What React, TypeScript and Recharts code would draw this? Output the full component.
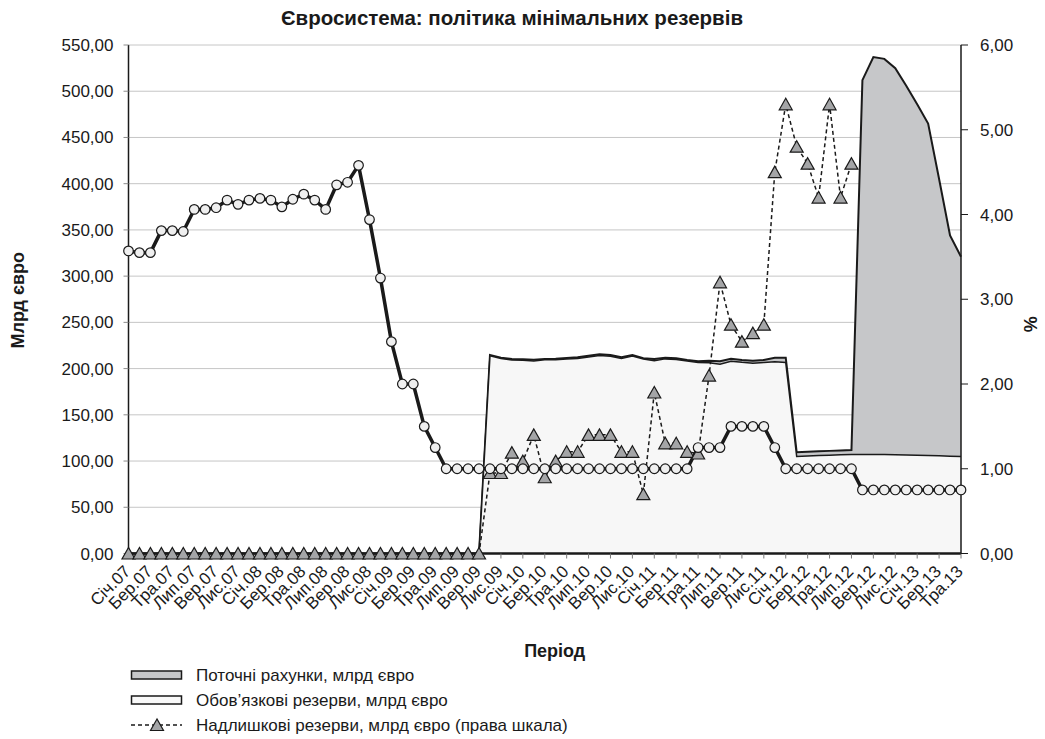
import React from 'react';
import { ComposedChart, Area, Line, XAxis, YAxis, CartesianGrid, Legend, Label } from 'recharts';

const FONT = '"Liberation Sans", Arial, sans-serif';

const monthNames = ['Січ', 'Лют', 'Бер', 'Кві', 'Тра', 'Чер', 'Лип', 'Сер', 'Вер', 'Жов', 'Лис', 'Гру'];
const yearSuffixes = ['07', '08', '09', '10', '11', '12', '13'];
const allPeriods: string[] = [];
yearSuffixes.forEach((y) => monthNames.forEach((m) => allPeriods.push(`${m}.${y}`)));
const categories = allPeriods.slice(0, 77); // Січ.07 … Тра.13

// Поточні рахунки, млрд євро (left scale)
const currentAccounts: number[] = [
  0, 0, 0, 0, 0, 0, 0, 0, 0, 0, 0, 0,
  0, 0, 0, 0, 0, 0, 0, 0, 0, 0, 0, 0,
  0, 0, 0, 0, 0, 0, 0, 0, 0,
  214.7, 211.8, 210.4,
  210.0, 209.6, 210.4, 210.7, 211.5, 212.2, 214.0, 215.5, 214.7, 212.2, 214.7, 211.1,
  210.4, 211.8, 211.1, 209.3, 207.9, 208.5, 208.0, 210.7, 209.3, 208.5, 209.3, 211.8,
  211.8, 109.5, 110.0, 110.5, 111.0, 111.5, 112.0, 512, 537, 535, 525, 506,
  486, 465, 405, 344, 321,
];

// Обов'язкові резерви, млрд євро (left scale)
const requiredReserves: number[] = [
  0, 0, 0, 0, 0, 0, 0, 0, 0, 0, 0, 0,
  0, 0, 0, 0, 0, 0, 0, 0, 0, 0, 0, 0,
  0, 0, 0, 0, 0, 0, 0, 0, 0,
  213.8, 210.9, 209.2,
  208.9, 208.2, 209.5, 209.6, 210.3, 211.0, 212.6, 214.1, 213.3, 211.0, 213.5, 210.4,
  208.5, 210.5, 209.8, 208.1, 206.7, 206.4, 204.8, 208.0, 206.8, 205.9, 206.6, 207.3,
  206.5, 105.0, 105.5, 106.0, 106.3, 106.7, 107.0, 107.0, 107.2, 107.1, 106.8, 106.5,
  106.3, 106.0, 105.6, 105.3, 105.0,
];

// Надлишкові резерви, млрд євро (right scale)
const excessReserves: (number | null)[] = [
  0, 0, 0, 0, 0, 0, 0, 0, 0, 0, 0, 0,
  0, 0, 0, 0, 0, 0, 0, 0, 0, 0, 0, 0,
  0, 0, 0, 0, 0, 0, 0, 0, 0,
  0.95, 0.95, 1.19,
  1.09, 1.40, 0.90, 1.09, 1.20, 1.20, 1.40, 1.40, 1.40, 1.20, 1.20, 0.70,
  1.90, 1.30, 1.30, 1.20, 1.18, 2.10, 3.20, 2.70, 2.50, 2.60, 2.70, 4.50,
  5.30, 4.80, 4.60, 4.20, 5.30, 4.20, 4.60, null, null, null, null, null,
  null, null, null, null, null,
];

// Ставка, % (right scale)
const interestRate: number[] = [
  3.57, 3.55, 3.55, 3.81, 3.81, 3.80, 4.06, 4.06, 4.08, 4.17, 4.12, 4.17,
  4.19, 4.17, 4.09, 4.18, 4.24, 4.17, 4.06, 4.35, 4.38, 4.58, 3.94, 3.25,
  2.50, 2.00, 2.00, 1.50, 1.25, 1.00, 1.00, 1.00, 1.00,
  1.00, 1.00, 1.00,
  1.00, 1.00, 1.00, 1.00, 1.00, 1.00, 1.00, 1.00, 1.00, 1.00, 1.00, 1.00,
  1.00, 1.00, 1.00, 1.00, 1.25, 1.25, 1.25, 1.50, 1.50, 1.50, 1.50, 1.25,
  1.00, 1.00, 1.00, 1.00, 1.00, 1.00, 1.00, 0.75, 0.75, 0.75, 0.75, 0.75,
  0.75, 0.75, 0.75, 0.75, 0.75,
];

const leftTicks = [0, 50, 100, 150, 200, 250, 300, 350, 400, 450, 500, 550];
const rightTicks = [0, 1, 2, 3, 4, 5, 6];

const data = categories.map((period, i) => ({
  period,
  ca: currentAccounts[i],
  rr: requiredReserves[i],
  excess: excessReserves[i],
  rate: interestRate[i],
}));

const fmt = (v: number) => v.toFixed(2).replace('.', ',');

const XTick = (props: any) => {
  const { x, y, payload } = props;
  return (
    <g transform={`translate(${x + 3},${y + 12})`}>
      <text
        x={0}
        y={0}
        textAnchor="end"
        transform="rotate(-45)"
        fontSize={17}
        fontFamily={FONT}
        fill="#1a1a1a"
      >
        {payload.value}
      </text>
    </g>
  );
};

const TriangleDot = (props: any) => {
  const { cx, cy, value, index } = props;
  if (value == null || cx == null || cy == null || Number.isNaN(cy)) return <g key={`t${index}`} />;
  return (
    <polygon
      key={`t${index}`}
      points={`${cx},${cy - 6} ${cx - 6.5},${cy + 5.5} ${cx + 6.5},${cy + 5.5}`}
      fill="#a4a5a7"
      stroke="#1a1a1a"
      strokeWidth={1.2}
    />
  );
};

const CircleDot = (props: any) => {
  const { cx, cy, index } = props;
  if (cx == null || cy == null) return <g key={`c${index}`} />;
  return <circle key={`c${index}`} cx={cx} cy={cy} r={4.8} fill="#efefef" stroke="#1a1a1a" strokeWidth={1.2} />;
};

const LegendContent = () => (
  <svg width={700} height={84} style={{ display: 'block', overflow: 'visible' }}>
    <rect x={131.5} y={12} width={50} height={8} fill="#c6c7c9" stroke="#1a1a1a" strokeWidth={1.5} />
    <text x={196} y={16} dominantBaseline="central" fontSize={17} fontFamily={FONT} fill="#1a1a1a">
      Поточні рахунки, млрд євро
    </text>
    <rect x={131.5} y={37} width={50} height={8} fill="#f9f9f9" stroke="#1a1a1a" strokeWidth={1.5} />
    <text x={196} y={41} dominantBaseline="central" fontSize={17} fontFamily={FONT} fill="#1a1a1a">
      Обов’язкові резерви, млрд євро
    </text>
    <line x1={131} y1={66} x2={182} y2={66} stroke="#1a1a1a" strokeWidth={1.3} strokeDasharray="4 3" />
    <polygon points="157,60 150.5,71.5 163.5,71.5" fill="#a4a5a7" stroke="#1a1a1a" strokeWidth={1.2} />
    <text x={196} y={66} dominantBaseline="central" fontSize={17} fontFamily={FONT} fill="#1a1a1a">
      Надлишкові резерви, млрд євро (права шкала)
    </text>
  </svg>
);

const LeftTitle = (props: any) => {
  const vb = props.viewBox || { x: 0, y: 45, width: 128, height: 508 };
  const cx = 18;
  const cy = vb.y + vb.height / 2 + 1;
  return (
    <text
      x={cx}
      y={cy}
      transform={`rotate(-90 ${cx} ${cy})`}
      textAnchor="middle"
      dominantBaseline="central"
      fontSize={18}
      fontWeight="bold"
      fontFamily={FONT}
      fill="#1a1a1a"
    >
      Млрд євро
    </text>
  );
};

const RightTitle = (props: any) => {
  const vb = props.viewBox || { x: 961, y: 45, width: 84, height: 508 };
  const cx = 1031;
  const cy = vb.y + vb.height / 2 + 25;
  return (
    <text
      x={cx}
      y={cy}
      transform={`rotate(-90 ${cx} ${cy})`}
      textAnchor="middle"
      dominantBaseline="central"
      fontSize={18}
      fontWeight="bold"
      fontFamily={FONT}
      fill="#1a1a1a"
    >
      %
    </text>
  );
};

const BottomTitle = (props: any) => {
  const vb = props.viewBox || { x: 128, y: 553, width: 833, height: 186 };
  const cx = vb.x + vb.width / 2 + 10;
  return (
    <text
      x={cx}
      y={651}
      textAnchor="middle"
      dominantBaseline="central"
      fontSize={18}
      fontWeight="bold"
      fontFamily={FONT}
      fill="#1a1a1a"
    >
      Період
    </text>
  );
};

export default function App() {
  return (
    <div style={{ position: 'absolute', left: 0, top: 0, width: 1045, height: 739, background: '#fff' }}>
      <div
        style={{
          position: 'absolute',
          left: 0,
          top: 6,
          width: 1024,
          textAlign: 'center',
          fontFamily: FONT,
          fontWeight: 'bold',
          fontSize: 20.5,
          color: '#1a1a1a',
          lineHeight: '24px',
        }}
      >
        Євросистема: політика мінімальних резервів
      </div>
      <ComposedChart width={1045} height={739} data={data} margin={{ top: 45, right: 0, bottom: 0, left: 0 }}>
        <CartesianGrid vertical={false} stroke="#8c8c8c" strokeDasharray="1 1" />
        <XAxis
          dataKey="period"
          scale="point"
          padding={{ left: 0, right: 0 }}
          interval={1}
          height={185.5}
          tick={<XTick />}
          tickSize={5}
          tickLine={{ stroke: '#777' }}
          axisLine={{ stroke: '#1a1a1a', strokeWidth: 2.5 }}
        >
          <Label content={<BottomTitle />} />
        </XAxis>
        <YAxis
          width={128.5}
          domain={[0, 550]}
          ticks={leftTicks}
          interval={0}
          tickFormatter={fmt}
          tickSize={5}
          tickMargin={10}
          tick={{ fontSize: 17, fontFamily: FONT, fill: '#1a1a1a' }}
          tickLine={{ stroke: '#8c8c8c' }}
          axisLine={{ stroke: '#1a1a1a', strokeWidth: 1.5 }}
        >
          <Label content={<LeftTitle />} />
        </YAxis>
        <YAxis
          yAxisId="r"
          orientation="right"
          width={84}
          domain={[0, 6]}
          ticks={rightTicks}
          interval={0}
          tickFormatter={fmt}
          tickSize={7}
          tickMargin={12}
          tick={{ fontSize: 17, fontFamily: FONT, fill: '#1a1a1a' }}
          tickLine={{ stroke: '#1a1a1a' }}
          axisLine={{ stroke: '#1a1a1a', strokeWidth: 1.5 }}
        >
          <Label content={<RightTitle />} />
        </YAxis>
        <Area
          type="linear"
          dataKey="ca"
          fill="#c6c7c9"
          fillOpacity={1}
          stroke="#1a1a1a"
          strokeWidth={2}
          isAnimationActive={false}
          name="Поточні рахунки, млрд євро"
        />
        <Area
          type="linear"
          dataKey="rr"
          fill="#f7f7f7"
          fillOpacity={1}
          stroke="#1a1a1a"
          strokeWidth={1.5}
          isAnimationActive={false}
          name="Обов’язкові резерви, млрд євро"
        />
        <Line
          type="linear"
          dataKey="excess"
          yAxisId="r"
          stroke="#1a1a1a"
          strokeWidth={1.5}
          strokeDasharray="4 3"
          dot={TriangleDot}
          activeDot={false}
          isAnimationActive={false}
          name="Надлишкові резерви, млрд євро (права шкала)"
        />
        <Line
          type="linear"
          dataKey="rate"
          yAxisId="r"
          stroke="#1a1a1a"
          strokeWidth={3.5}
          dot={CircleDot}
          activeDot={false}
          isAnimationActive={false}
          legendType="none"
          name="Ставка, %"
        />
        <Legend
          layout="horizontal"
          verticalAlign="middle"
          align="center"
          content={<LegendContent />}
          wrapperStyle={{ left: 0, top: 659, width: 700, height: 84 }}
        />
      </ComposedChart>
    </div>
  );
}
